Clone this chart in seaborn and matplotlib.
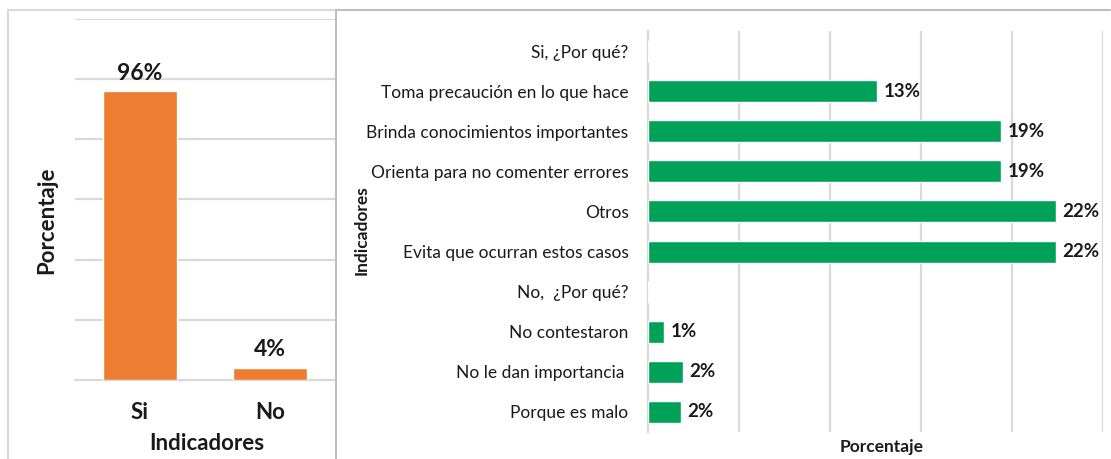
import matplotlib
matplotlib.use('Agg')
import matplotlib.pyplot as plt
from matplotlib.lines import Line2D
import seaborn as sns
import pandas as pd

# left chart
resp_cats = ['Si', 'No']
resp_vals = [0.96, 0.04]

# right chart
ind_cats = ['Si, ¿Por qué?', 'Toma precaución en lo que hace', 'Brinda conocimientos importantes',
            'Orienta para no comenter errores', 'Otros', 'Evita que ocurran estos casos',
            'No,  ¿Por qué?', 'No contestaron', 'No le dan importancia ', 'Porque es malo']
ind_vals = [0.0, 0.126, 0.194, 0.194, 0.224, 0.224, 0.0, 0.009, 0.019, 0.018]
ind_labels = ['', '13%', '19%', '19%', '22%', '22%', '', '1%', '2%', '2%']

sns.set_theme(style='white')
plt.rcParams['font.family'] = ['Lato', 'DejaVu Sans']

ORANGE = '#ED7D31'
GREEN = '#00A25A'
GRID = '#d9d9d9'
TXT = '#1a1a1a'

fig = plt.figure(figsize=(11.11, 4.59), dpi=100)

'''
LEFT PANEL
'''
ax1 = fig.add_axes([75 / 1111, 79 / 459, 260 / 1111, 361 / 459])
df1 = pd.DataFrame({'cat': resp_cats, 'val': resp_vals})
sns.barplot(data=df1, x='cat', y='val', color=ORANGE, width=0.57, saturation=1, ax=ax1, zorder=3)
ax1.set_xlim(-0.5, 1.5)
ax1.set_ylim(0, 1.2)
ax1.set_yticks([0.2, 0.4, 0.6, 0.8, 1.0, 1.2])
ax1.set_yticklabels([])
ax1.yaxis.grid(True, color=GRID, lw=1.6, zorder=0)
ax1.tick_params(axis='y', length=0)
for s in ['top', 'right', 'left']:
    ax1.spines[s].set_visible(False)
ax1.spines['bottom'].set_color(GRID)
ax1.spines['bottom'].set_linewidth(1.6)
ax1.set_xticks([-0.5, 0.5, 1.5], minor=True)
ax1.tick_params(axis='x', which='minor', length=6, width=1.4, color=GRID, direction='out')
ax1.tick_params(axis='x', which='major', length=0, pad=16, labelsize=16, labelcolor=TXT)
for lab in ax1.get_xticklabels():
    lab.set_fontweight('bold')
for i, v in enumerate(resp_vals):
    ax1.text(i, v + 0.025, f'{v:.0%}', ha='center', va='bottom', fontsize=16.5,
             fontweight='bold', color=TXT)
ax1.set_xlabel('Indicadores', fontsize=16, fontweight='bold', color=TXT)
ax1.xaxis.set_label_coords(0.508, -0.147)
ax1.set_ylabel('Porcentaje', fontsize=16, fontweight='bold', color=TXT)
ax1.yaxis.set_label_coords(-0.07, 0.443)

'''
RIGHT PANEL
'''
ax2 = fig.add_axes([648 / 1111, 27 / 459, 455 / 1111, 401 / 459])
df2 = pd.DataFrame({'cat': ind_cats, 'val': ind_vals})
sns.barplot(data=df2, y='cat', x='val', orient='h', color=GREEN, width=0.55, saturation=1,
            ax=ax2, zorder=3)
ax2.set_xlim(0, 0.25)
ax2.set_ylim(9.5, -0.5)
ax2.set_xticks([0.05, 0.10, 0.15, 0.20, 0.25])
ax2.set_xticklabels([])
ax2.xaxis.grid(True, color=GRID, lw=1.6, zorder=0)
for s in ['top', 'right', 'bottom']:
    ax2.spines[s].set_visible(False)
ax2.spines['left'].set_color(GRID)
ax2.spines['left'].set_linewidth(1.6)
ax2.tick_params(axis='both', length=0)
ax2.tick_params(axis='y', pad=14, labelsize=12.5, labelcolor=TXT)
for i, (v, lab) in enumerate(zip(ind_vals, ind_labels)):
    if lab:
        ax2.text(v + 0.0035, i, lab, ha='left', va='center', fontsize=13.5,
                 fontweight='bold', color=TXT)
ax2.set_xlabel('Porcentaje', fontsize=12.5, fontweight='bold', color=TXT)
ax2.xaxis.set_label_coords(0.514, -0.018)
ax2.set_ylabel('Indicadores', fontsize=12.5, fontweight='bold', color=TXT)
ax2.yaxis.set_label_coords(-0.611, 0.504)

'''
PANEL BORDERS
'''
def fx(px):
    return px / 1111

def fy(py):
    return 1 - py / 459

fig.add_artist(Line2D([fx(8), fx(8)], [fy(10), 0], color=GRID, lw=1.5))
fig.add_artist(Line2D([fx(8), fx(336)], [fy(10), fy(10)], color=GRID, lw=1.5))
fig.add_artist(Line2D([fx(336), fx(336)], [fy(10), 0], color='#bfbfbf', lw=1.5))
fig.add_artist(Line2D([fx(336), fx(1110)], [fy(10), fy(10)], color='#bfbfbf', lw=1.5))

fig.savefig('out.png', dpi=100)
